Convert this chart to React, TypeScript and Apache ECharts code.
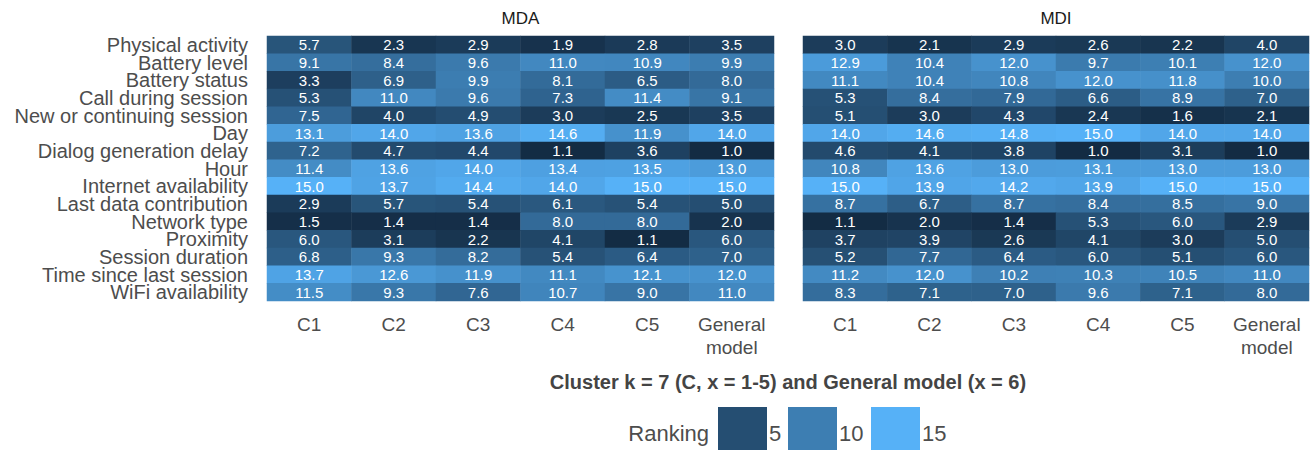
import React, { useEffect, useRef } from "react";
import * as echarts from "echarts";

const features = [
  "Physical activity",
  "Battery level",
  "Battery status",
  "Call during session",
  "New or continuing session",
  "Day",
  "Dialog generation delay",
  "Hour",
  "Internet availability",
  "Last data contribution",
  "Network type",
  "Proximity",
  "Session duration",
  "Time since last session",
  "WiFi availability",
];

const models = ["C1", "C2", "C3", "C4", "C5", "General\nmodel"];

// rows follow `features`, columns follow `models`
const mdaValues = [
  [5.7, 2.3, 2.9, 1.9, 2.8, 3.5],
  [9.1, 8.4, 9.6, 11.0, 10.9, 9.9],
  [3.3, 6.9, 9.9, 8.1, 6.5, 8.0],
  [5.3, 11.0, 9.6, 7.3, 11.4, 9.1],
  [7.5, 4.0, 4.9, 3.0, 2.5, 3.5],
  [13.1, 14.0, 13.6, 14.6, 11.9, 14.0],
  [7.2, 4.7, 4.4, 1.1, 3.6, 1.0],
  [11.4, 13.6, 14.0, 13.4, 13.5, 13.0],
  [15.0, 13.7, 14.4, 14.0, 15.0, 15.0],
  [2.9, 5.7, 5.4, 6.1, 5.4, 5.0],
  [1.5, 1.4, 1.4, 8.0, 8.0, 2.0],
  [6.0, 3.1, 2.2, 4.1, 1.1, 6.0],
  [6.8, 9.3, 8.2, 5.4, 6.4, 7.0],
  [13.7, 12.6, 11.9, 11.1, 12.1, 12.0],
  [11.5, 9.3, 7.6, 10.7, 9.0, 11.0],
];

const mdiValues = [
  [3.0, 2.1, 2.9, 2.6, 2.2, 4.0],
  [12.9, 10.4, 12.0, 9.7, 10.1, 12.0],
  [11.1, 10.4, 10.8, 12.0, 11.8, 10.0],
  [5.3, 8.4, 7.9, 6.6, 8.9, 7.0],
  [5.1, 3.0, 4.3, 2.4, 1.6, 2.1],
  [14.0, 14.6, 14.8, 15.0, 14.0, 14.0],
  [4.6, 4.1, 3.8, 1.0, 3.1, 1.0],
  [10.8, 13.6, 13.0, 13.1, 13.0, 13.0],
  [15.0, 13.9, 14.2, 13.9, 15.0, 15.0],
  [8.7, 6.7, 8.7, 8.4, 8.5, 9.0],
  [1.1, 2.0, 1.4, 5.3, 6.0, 2.9],
  [3.7, 3.9, 2.6, 4.1, 3.0, 5.0],
  [5.2, 7.7, 6.4, 6.0, 5.1, 6.0],
  [11.2, 12.0, 10.2, 10.3, 10.5, 11.0],
  [8.3, 7.1, 7.0, 9.6, 7.1, 8.0],
];

const panelTitles = ["MDA", "MDI"];
const xTitle = "Cluster k = 7 (C, x = 1-5) and General model (x = 6)";
const legendTitle = "Ranking";
const legendBreaks = [5, 10, 15];
const scaleMin = 1;
const scaleMax = 15;

// ---- colour helpers (ggplot2-like gradient interpolated in CIELAB) ----
const LOW = "#132B43";
const HIGH = "#56B1F7";

function hexToRgb(h: string) {
  const n = parseInt(h.slice(1), 16);
  return [(n >> 16) & 255, (n >> 8) & 255, n & 255];
}
function toLin(c: number) {
  c /= 255;
  return c <= 0.04045 ? c / 12.92 : Math.pow((c + 0.055) / 1.055, 2.4);
}
function fromLin(c: number) {
  const v = c <= 0.0031308 ? 12.92 * c : 1.055 * Math.pow(c, 1 / 2.4) - 0.055;
  return Math.max(0, Math.min(255, Math.round(v * 255)));
}
const WX = 0.95047, WY = 1.0, WZ = 1.08883;
function fLab(t: number) {
  return t > 0.008856 ? Math.cbrt(t) : 7.787 * t + 16 / 116;
}
function fLabInv(t: number) {
  const t3 = t * t * t;
  return t3 > 0.008856 ? t3 : (t - 16 / 116) / 7.787;
}
function rgbToLab(rgb: number[]) {
  const [r, g, b] = rgb.map(toLin);
  const X = 0.4124564 * r + 0.3575761 * g + 0.1804375 * b;
  const Y = 0.2126729 * r + 0.7151522 * g + 0.072175 * b;
  const Z = 0.0193339 * r + 0.119192 * g + 0.9503041 * b;
  const fx = fLab(X / WX), fy = fLab(Y / WY), fz = fLab(Z / WZ);
  return [116 * fy - 16, 500 * (fx - fy), 200 * (fy - fz)];
}
function labToHex(lab: number[]) {
  const fy = (lab[0] + 16) / 116;
  const fx = fy + lab[1] / 500;
  const fz = fy - lab[2] / 200;
  const X = WX * fLabInv(fx), Y = WY * fLabInv(fy), Z = WZ * fLabInv(fz);
  const r = 3.2404542 * X - 1.5371385 * Y - 0.4985314 * Z;
  const g = -0.969266 * X + 1.8760108 * Y + 0.041556 * Z;
  const b = 0.0556434 * X - 0.2040259 * Y + 1.0572252 * Z;
  return "#" + [r, g, b].map((c) => fromLin(c).toString(16).padStart(2, "0")).join("");
}
const labLow = rgbToLab(hexToRgb(LOW));
const labHigh = rgbToLab(hexToRgb(HIGH));
function colorAt(v: number) {
  const t = (v - scaleMin) / (scaleMax - scaleMin);
  return labToHex(labLow.map((c, i) => c + (labHigh[i] - c) * t));
}
const gradientStops: string[] = [];
for (let i = 0; i <= 28; i++) {
  gradientStops.push(colorAt(scaleMin + ((scaleMax - scaleMin) * i) / 28));
}

function toCells(values: number[][]) {
  const out: number[][] = [];
  values.forEach((row, yi) => row.forEach((v, xi) => out.push([xi, yi, v])));
  return out;
}

const FONT = "'Liberation Sans', Arial, Helvetica, sans-serif";
const TEXT = "#4D4D4D";

export default function App() {
  const ref = useRef<HTMLDivElement>(null);
  useEffect(() => {
    document.body.style.margin = "0";
    if (!ref.current) return;
    const chart = echarts.init(ref.current, undefined, { renderer: "svg" });
    const grids = [
      { left: 267, top: 36, width: 507, height: 265 },
      { left: 803, top: 36, width: 506, height: 265 },
    ];
    const xAxes = grids.map((_, i) => ({
      type: "category",
      gridIndex: i,
      data: models,
      axisLine: { show: false },
      axisTick: { show: false },
      splitLine: { show: false },
      axisLabel: {
        color: TEXT,
        fontFamily: FONT,
        fontSize: 19,
        lineHeight: 23,
        margin: 12,
        interval: 0,
      },
    }));
    const yAxes = grids.map((_, i) => ({
      type: "category",
      gridIndex: i,
      data: features,
      inverse: true,
      axisLine: { show: false },
      axisTick: { show: false },
      splitLine: { show: false },
      axisLabel: {
        show: i === 0,
        color: TEXT,
        fontFamily: FONT,
        fontSize: 20,
        lineHeight: 16,
        margin: 19,
        interval: 0,
      },
    }));
    const series = [mdaValues, mdiValues].map((vals, i) => ({
      type: "heatmap",
      xAxisIndex: i,
      yAxisIndex: i,
      data: toCells(vals),
      label: {
        show: true,
        color: "#FFFFFF",
        fontFamily: FONT,
        fontSize: 15,
        formatter: (p: any) => Number(p.value[2]).toFixed(1),
      },
      itemStyle: { borderWidth: 0 },
      emphasis: { disabled: true },
    }));

    const keyX = [718, 788, 871];
    const graphics: any[] = [];
    panelTitles.forEach((t, i) => {
      graphics.push({
        type: "text",
        x: grids[i].left + grids[i].width / 2,
        y: 18,
        style: {
          text: t,
          fill: "#1A1A1A",
          font: `17px ${FONT}`,
          textAlign: "center",
          textVerticalAlign: "middle",
        },
      });
    });
    graphics.push({
      type: "text",
      x: (267 + 1309) / 2,
      y: 382,
      style: {
        text: xTitle,
        fill: "#444444",
        font: `bold 20px ${FONT}`,
        textAlign: "center",
        textVerticalAlign: "middle",
      },
    });
    graphics.push({
      type: "text",
      x: 709,
      y: 433,
      style: {
        text: legendTitle,
        fill: TEXT,
        font: `22px ${FONT}`,
        textAlign: "right",
        textVerticalAlign: "middle",
      },
    });
    legendBreaks.forEach((b, i) => {
      graphics.push({
        type: "rect",
        shape: { x: keyX[i], y: 407, width: 49, height: 46 },
        style: { fill: colorAt(b) },
      });
      graphics.push({
        type: "text",
        x: keyX[i] + 51,
        y: 433,
        style: {
          text: String(b),
          fill: TEXT,
          font: `22px ${FONT}`,
          textAlign: "left",
          textVerticalAlign: "middle",
        },
      });
    });

    chart.setOption({
      animation: false,
      backgroundColor: "#FFFFFF",
      grid: grids,
      xAxis: xAxes,
      yAxis: yAxes,
      visualMap: {
        type: "continuous",
        min: scaleMin,
        max: scaleMax,
        show: false,
        seriesIndex: [0, 1],
        inRange: { color: gradientStops },
      },
      series,
      graphic: graphics,
    });
    return () => chart.dispose();
  }, []);
  return <div ref={ref} style={{ width: 1313, height: 450 }} />;
}
